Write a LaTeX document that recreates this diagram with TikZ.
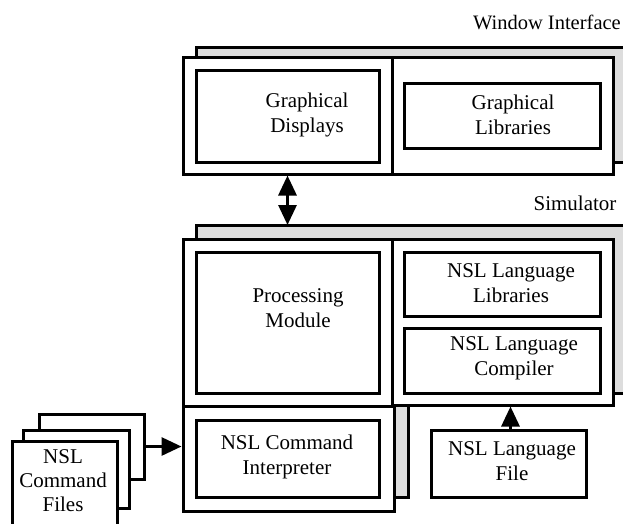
\documentclass[tikz,border=0pt]{standalone}
\usepackage{fontspec}
\setmainfont{Liberation Serif}
\usetikzlibrary{arrows.meta}
\definecolor{shade}{HTML}{DDDDDD}
\tikzset{
  frame/.style={draw=black, line width=3pt, fill=white, rectangle, inner sep=0pt},
  back/.style={draw=black, line width=3pt, fill=shade},
  lbl/.style={font=\fontsize{21}{25}\selectfont, align=center, inner sep=0pt},
  bigtip/.tip={Triangle[width=18pt,length=20pt]},
  link/.style={line width=3pt, -bigtip},
  twoway/.style={line width=3pt, bigtip-bigtip},
}
\begin{document}
\begin{tikzpicture}[x=1pt, y=-1pt]
  \useasboundingbox (0,0) rectangle (623,523);
  \clip (0,0) rectangle (623,523);

  % layer titles
  \node[lbl, anchor=east, font=\fontsize{20.5}{25}\selectfont] (wintitle) at (621,22) {Window Interface};
  \node[lbl] (simtitle) at (575,203) {Simulator};

  % shaded backing plates
  \draw[back] (196,47) rectangle (640,162);
  \draw[back] (196,225) -- (640,225) -- (640,393) -- (408,393)
              -- (408,497) -- (196,497) -- cycle;
  \coordinate (simtop) at (196,225);

  % window interface panels
  \node[frame, minimum width=209pt, minimum height=117pt] (wl) at (287.5,115.5) {};
  \node[frame, minimum width=221pt, minimum height=117pt] (wr) at (502.5,115.5) {};
  \node[frame, minimum width=183pt, minimum height=92pt]  (gd) at (287.5,116) {};
  \node[frame, minimum width=196pt, minimum height=65pt]  (gl) at (502,115.5) {};
  \node[lbl] (gdt) at (307,115) {Graphical\\Displays};
  \node[lbl] (glt) at (513,115) {Graphical\\Libraries};

  % simulator panels
  \node[frame, minimum width=209pt, minimum height=167pt] (sl) at (287.5,322.5) {};
  \node[frame, minimum width=221pt, minimum height=166pt] (sr) at (502.5,322) {};
  \node[frame, minimum width=211pt, minimum height=105pt] (sb) at (288.5,458.5) {};
  \node[frame, minimum width=183pt, minimum height=141pt] (pm) at (287.5,322.5) {};
  \node[frame, minimum width=196pt, minimum height=64pt]  (ll) at (502,284) {};
  \node[frame, minimum width=196pt, minimum height=65pt]  (lc) at (502,360.5) {};
  \node[frame, minimum width=183pt, minimum height=77pt]  (ci) at (287.5,458.5) {};
  \node[lbl] (pmt) at (298,308) {Processing\\Module};
  \node[lbl] (llt) at (511,283) {NSL Language\\Libraries};
  \node[lbl] (lct) at (514,358) {NSL Language\\Compiler};
  \node[lbl] (cit) at (287,457) {NSL Command\\Interpreter};

  % language source file
  \node[frame, minimum width=155pt, minimum height=67pt] (lf) at (508.5,463.5) {};
  \node[lbl] (lft) at (512,461) {NSL Language\\File};

  % stack of command files
  \node[frame, minimum width=105pt, minimum height=65pt] (cf3) at (91.5,446.5) {};
  \node[frame, minimum width=106pt, minimum height=78pt] (cf2) at (76,469) {};
  \node[frame, minimum width=105pt, minimum height=99pt] (cf1) at (64.5,490.5) {};
  \node[lbl, font=\fontsize{21}{24}\selectfont] (cft) at (63,481) {NSL\\Command\\Files};

  % connectors
  \draw[twoway] (wl.south) -- (wl.south |- simtop);
  \draw[link] (cf3.east) -- (cf3.east -| sb.west);
  \draw[link] ([xshift=2pt]lf.north) -- ([xshift=2pt]lf.north |- sr.south);
\end{tikzpicture}
\end{document}
